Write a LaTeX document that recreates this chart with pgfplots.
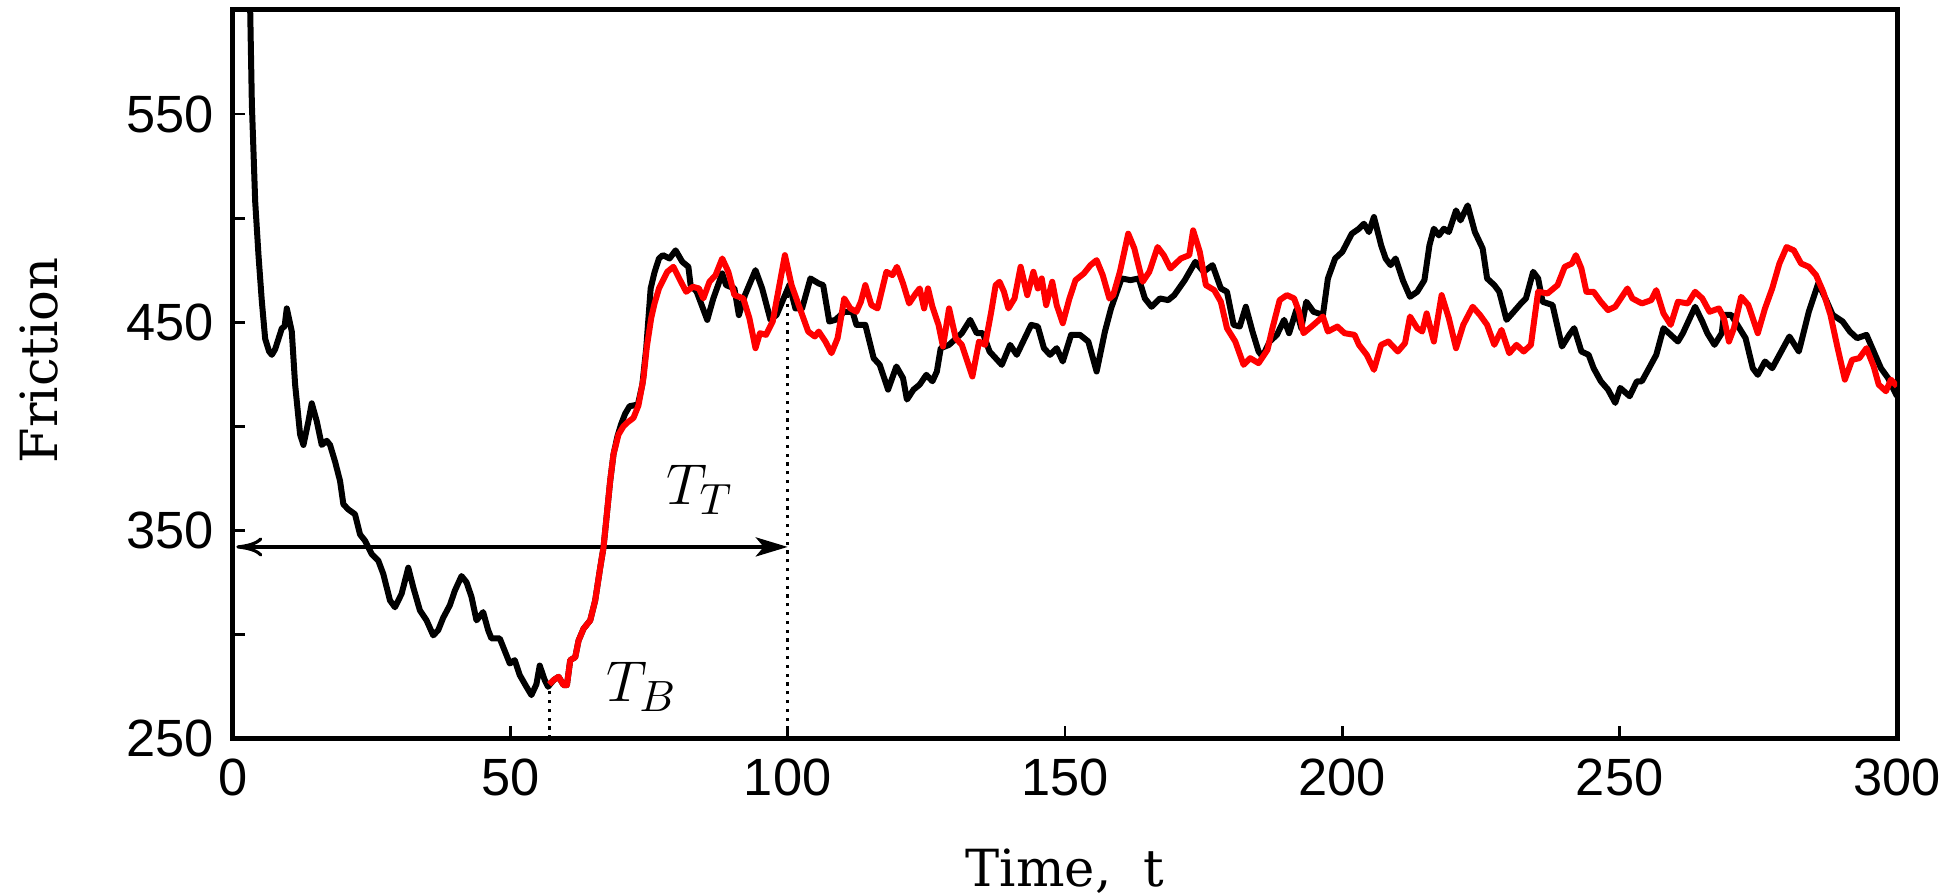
\documentclass[border=0pt]{standalone}
\usepackage{fontspec}
\setmainfont{DejaVu Serif}
\newfontfamily\tickfont{Liberation Sans}
\usepackage{pgfplots}
\pgfplotsset{compat=1.18}
\usetikzlibrary{arrows.meta}

\begin{document}
\begin{tikzpicture}
\begin{axis}[
  scale only axis, width=416pt, height=182.1pt,
  xmin=0, xmax=300, ymin=250, ymax=600,
  xtick={0,50,...,300},
  ytick={250,350,450,550},
  minor ytick={300,400,500},
  tick pos=left, tick align=inside,
  major tick length=3pt, minor tick length=3pt,
  major tick style={black, line width=0.7pt},
  minor tick style={black, line width=0.7pt},
  axis line style={line width=1.25pt},
  /pgf/number format/assume math mode=true,
  tick label style={font=\tickfont\fontsize{13.1}{15}\selectfont},
  xticklabel style={yshift=-1.5pt},
  yticklabel style={xshift=-1.3pt},
  label style={font=\fontsize{12.8}{15}\selectfont},
  xlabel={Time,\ \ t},
  ylabel={Friction},
  x label style={at={(axis description cs:0.5,0)}, anchor=base, yshift=-37pt},
  y label style={at={(axis description cs:-0.1166,0.519)}, anchor=center},
  clip=true,
]

% markers for T_B and T_T
\draw[line width=0.8pt, dash pattern=on 0.8pt off 1.4pt] (axis cs:57,250) -- (axis cs:57,273);
\draw[line width=0.8pt, dash pattern=on 0.8pt off 1.4pt] (axis cs:100,250) -- (axis cs:100,466);
\draw[line width=0.8pt, {To[length=6.5pt,width=4.8pt]}-{Stealth[length=8pt,width=4.8pt,inset=2pt]}]
  (axis cs:0.6,342) -- (axis cs:100,342);
\node[font=\fontsize{15.7}{18}\selectfont] at (axis cs:84.2,369.4) {$T_T$};
\node[font=\fontsize{15.7}{18}\selectfont] at (axis cs:73.7,274.6) {$T_B$};

% black run
\addplot[black, line width=1.5pt, line join=round, no markers] table {
t v
2.8 640
3.1 600
3.4 555
4.0 508
4.6 482
5.2 460
5.8 442
6.5 436
7.0 434.3
7.6 437
8.2 442
8.8 447
9.3 448
9.7 456.6
10.6 445.5
11.2 420
12.1 396
12.7 391
13.6 402.4
14.2 411
15.1 402.4
16.0 391
16.9 393
17.5 391
18.4 383
19.3 373.7
19.9 362.5
20.8 360
22.0 357.7
22.9 348
23.8 345
25.0 338.6
26.2 335.4
27.1 329
28.3 316.3
29.2 313
30.4 319.5
31.6 332
32.5 322.6
33.7 311.5
34.9 306.7
36.1 299.5
37.0 302
37.9 308
39.1 314
40.0 321
41.2 328
42.1 325
43.0 318
43.9 306.7
45.1 310.7
46.0 302
46.6 298
48.1 298
49.0 292
49.9 286
50.8 287.6
51.7 280.4
52.9 274.8
53.8 270.8
54.7 276
55.3 285
56.2 278
56.8 274.8
57.8 278
58.7 279.6
59.6 275.6
60.2 275.6
60.8 287.6
61.7 289
62.3 297
63.2 302.7
64.4 306.7
65.3 316.3
66.2 332
66.8 341.8
67.4 357.7
68.0 373.7
68.6 386.5
69.3 395
69.95 400.8
70.7 406
71.5 409.6
73.0 410.4
73.8 420
74.5 437.5
75.3 466.2
76.0 474
76.8 480.6
77.5 482.2
78.7 480.6
79.8 484.5
81.0 479
82.1 476.6
82.5 467.8
83.6 464.6
85.5 451.1
86.6 461.4
88.2 473.4
88.9 467.8
90.4 466.2
91.2 453.4
92.3 463
94.2 475
95.4 466.2
96.9 451.1
98.0 453.5
100.3 467.8
101.4 456.6
102.6 456.6
104.1 471
105.6 468.6
106.4 467.8
107.5 450.3
108.6 451.1
110.2 455
111.7 455
112.4 448.7
114.0 448.7
115.5 432.7
116.6 429.5
118.1 417.6
119.6 428.7
120.8 423.1
121.5 412.8
122.7 417.6
123.8 420
125.0 424.7
126.1 421.6
126.9 426.3
127.6 437.5
129.1 439.1
131.4 444.7
132.9 451.1
134.1 444.7
135.2 444.7
136.4 435.9
138.6 429.5
140.1 439.1
141.3 434.3
143.9 448.7
145.1 447.9
146.2 437.5
147.3 434.3
148.5 437.5
149.6 431.1
151.1 443.9
152.7 443.9
154.2 440.7
155.7 426.3
157.2 445.5
158.3 456.6
160.2 471
161.8 470.2
163.3 471
164.4 461.4
165.6 457.4
167.1 461.4
168.6 460.6
169.7 463
171.6 470.2
173.5 479
175.0 474.2
176.6 477.4
178.1 466.2
179.2 464.6
180.4 448.7
181.5 447.9
182.6 457.4
183.8 445.5
184.9 435.9
185.6 433.5
186.9 440.7
188.2 443.9
189.5 451.1
190.4 444.7
191.7 455.8
192.6 447.1
193.5 459.8
194.8 455
196.5 453.5
197.4 471
198.7 480.6
200.0 483.8
201.7 492.5
203.0 494.9
203.9 497.3
204.8 493.3
205.7 500.5
207.0 486.9
207.8 480.6
208.7 477.4
209.6 480.6
210.9 470.2
212.2 462.2
213.5 464.6
214.8 470.2
215.7 486.9
216.5 494.9
217.4 491.7
218.3 494.9
219.2 493.3
220.5 503.7
221.3 498.9
222.6 506.1
223.9 493.3
225.3 485.4
226.1 471
227.4 467.8
228.3 464.6
229.6 451.1
230.9 455
232.2 459
233.1 461.4
234.4 474.2
235.3 471
236.1 459.8
237.9 458.2
239.6 438.3
240.9 443.9
241.8 447.1
243.1 435.9
244.4 434.3
245.3 427.9
246.6 421.6
247.9 417.6
249.2 411.2
250.1 418.4
251.8 414.4
253.1 421.6
254.0 421.6
255.3 427.9
256.6 434.3
257.9 447.1
259.2 443.9
260.5 440.7
261.4 444.7
263.6 457.4
264.9 450.3
265.8 444.7
267.1 439.1
268.4 444.7
268.8 453.5
270.1 453.5
271.4 447.9
272.7 442.3
274.0 427.9
274.9 424.7
276.2 431.1
277.5 427.9
278.8 434.3
280.6 443.1
282.3 435.9
284.1 455
285.8 468.6
287.1 461.4
288.4 453.5
290.2 450.3
291.5 445.5
292.8 442.3
294.5 443.9
295.8 435.9
297.1 427.9
298.4 423.1
300.0 414.4
};

% red run, starting at T_B
\addplot[red, line width=1.5pt, line join=round, no markers] table {
t v
57.0 276
57.8 278
58.7 279.6
59.6 275.6
60.2 275.6
60.8 287.6
61.7 289
62.3 297
63.2 302.7
64.4 306.7
65.3 316.3
66.2 332
66.8 341.8
67.4 357.7
68.0 373.7
68.6 386.5
69.5 396
70.4 400
71.2 402
72.2 404
73.1 410
74.0 423
74.6 438
75.4 452
76.0 459
76.8 466.2
78.3 474.2
79.4 476.6
80.6 470.2
81.7 464.6
82.9 467
84.0 466.2
84.8 461.4
85.9 469.4
87.0 472.6
88.2 480.6
89.3 474.2
90.4 463
92.0 461.4
93.1 451.9
94.2 437.5
95.0 444.7
96.1 443.9
97.3 450.3
99.5 482.2
100.7 467.8
102.2 456.6
103.7 445.5
104.9 443.1
105.6 445.5
106.8 440.7
107.9 435.1
109.0 442.3
110.2 461.4
111.3 456.6
112.4 455
113.2 459.8
114.0 467.8
115.1 458.2
116.2 456.6
117.8 474.2
118.9 472.6
119.7 476.6
120.8 468.6
121.9 459
123.1 463.8
123.8 466.2
124.6 456.6
125.3 466.2
126.1 457.4
127.2 448.7
128.0 438.3
129.1 456.6
130.3 442.3
131.4 439.1
132.5 430.3
133.3 423.9
134.5 440.7
135.6 439.1
136.7 455
137.5 467.8
138.2 469.4
139.0 464.6
139.8 456.6
140.9 461.4
142.0 476.6
143.2 463
144.3 474.2
145.1 466.2
145.8 471
146.6 458.2
147.7 469.4
148.5 458.2
149.6 449.5
150.8 461.4
151.9 470.2
153.4 473.4
154.6 477.4
155.7 479.8
156.8 472.6
158.0 461.4
158.7 463
159.9 474.2
161.4 492.5
162.5 485.4
164.0 469.4
165.2 474.2
166.7 486.1
167.8 482.2
169.0 475.8
170.9 480.6
172.4 482.2
173.1 494.1
174.3 483.8
175.4 467.8
176.9 465.4
178.1 459.8
179.2 447.1
180.7 440.7
182.2 429.5
183.4 432.7
184.9 430.3
186.5 436.7
187.4 447.1
188.7 460.6
190.0 463
191.3 461.4
192.2 455
193.0 444.7
194.8 448.7
196.5 452.7
197.4 445.5
199.1 447.9
200.4 444.7
202.2 443.9
203.0 439.1
204.4 434.3
205.7 427.1
207.0 439.1
208.3 440.7
210.0 435.9
211.3 439.9
212.2 452.7
213.5 447.1
214.4 445.5
215.2 454.2
216.5 440.7
217.9 463
219.2 451.9
220.5 437.5
221.8 448.7
223.5 457.4
224.8 453.5
226.1 448.7
227.4 439.1
228.7 446.3
230.1 435.1
231.4 439.1
232.7 435.9
234.0 439.1
234.8 455
235.3 464.6
237.0 463.8
238.8 467.8
240.1 476.6
241.4 478.2
242.1 482.2
243.1 475.8
244.0 464.6
245.3 464.6
246.6 459.8
247.9 455.8
249.2 457.4
251.4 466.2
252.3 461.4
254.0 459
255.7 460.6
256.6 465.4
257.9 454.2
259.2 448.7
260.5 459.8
262.3 459
263.6 464.6
264.9 461.4
266.2 455
267.9 456.6
268.8 451.9
269.7 440.7
270.6 447.1
271.9 462.2
273.2 458.2
274.9 444.7
276.2 456.6
277.5 466.2
278.8 478.2
280.1 486.1
281.4 484.5
282.7 478.2
284.1 476.6
285.4 472.6
286.7 464.6
288.0 453.5
289.3 437.5
290.6 422.4
291.9 431.9
293.2 432.7
294.5 437.5
295.8 428.7
296.7 420
298.0 416.8
298.9 422.4
300.0 419.2
};
\end{axis}
\pgfresetboundingbox
\path[use as bounding box]
  ([shift={(-58.25pt,-39.4pt)}]current axis.south west)
  rectangle ([shift={(431.25pt,184.6pt)}]current axis.south west);
\end{tikzpicture}
\end{document}
